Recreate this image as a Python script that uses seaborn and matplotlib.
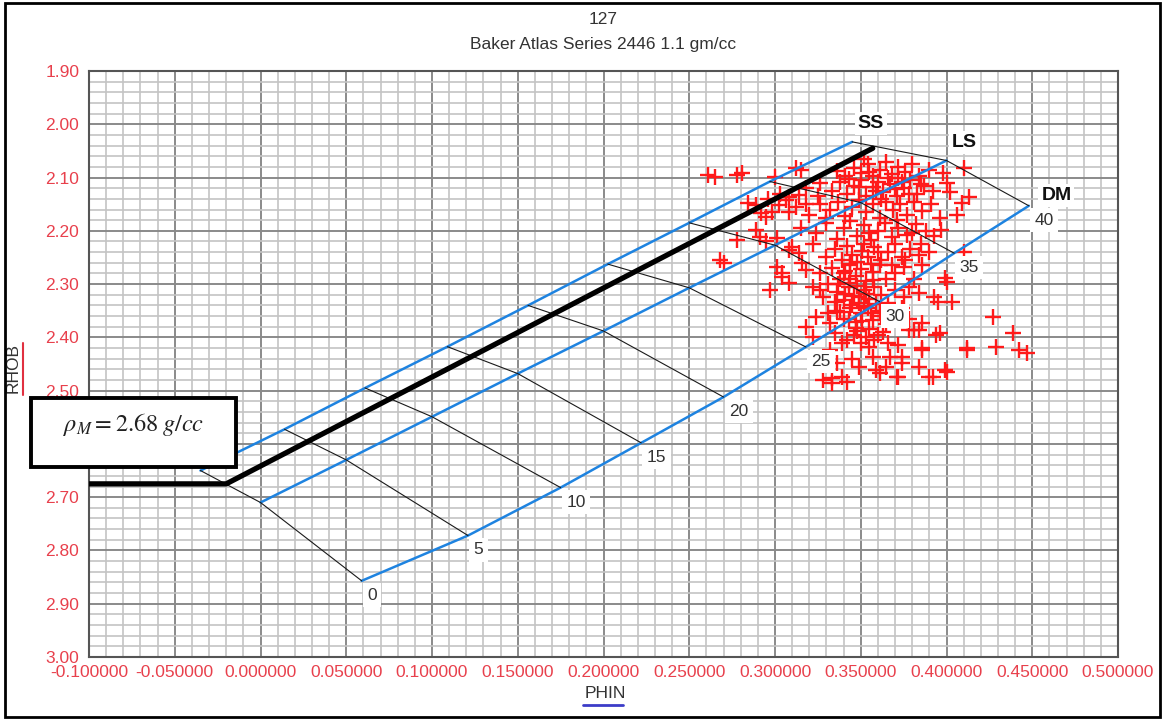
import matplotlib
matplotlib.use("Agg")
import matplotlib.pyplot as plt
import seaborn as sns
import pandas as pd
from matplotlib.ticker import MultipleLocator, FuncFormatter
from matplotlib.patches import Rectangle
from matplotlib.lines import Line2D

# ---------------- data ----------------
porosity = [0, 5, 10, 15, 20, 25, 30, 35, 40]
ss_phin = [-0.035, 0.014, 0.061, 0.109, 0.156, 0.2025, 0.250, 0.297, 0.345]
ss_rhob = [2.650, 2.5725, 2.495, 2.4175, 2.340, 2.2625, 2.185, 2.1075, 2.033]
ls_phin = [0.00, 0.05, 0.10, 0.15, 0.20, 0.25, 0.30, 0.35, 0.40]
ls_rhob = [2.710, 2.630, 2.549, 2.468, 2.388, 2.307, 2.227, 2.147, 2.068]
dm_phin = [0.059, 0.121, 0.175, 0.222, 0.270, 0.318, 0.361, 0.4045, 0.448]
dm_rhob = [2.857, 2.772, 2.682, 2.598, 2.512, 2.418, 2.333, 2.242, 2.153]
lith_names = ["SS", "LS", "DM"]

matrix_phin = [-0.100, -0.020, 0.357]
matrix_rhob = [2.675, 2.675, 2.045]

phin = [
    0.261, 0.265, 0.278, 0.281, 0.300, 0.312, 0.315, 0.336, 0.341, 0.346,
    0.350, 0.354, 0.357, 0.361, 0.365, 0.368, 0.372, 0.376, 0.380, 0.384,
    0.390, 0.398, 0.410, 0.352, 0.372,
    0.318, 0.326, 0.333, 0.338, 0.342, 0.346, 0.350, 0.353, 0.357, 0.360,
    0.363, 0.367, 0.371, 0.375, 0.379, 0.383, 0.387, 0.392, 0.400, 0.402,
    0.308, 0.314,
    0.284, 0.289, 0.292, 0.295, 0.298, 0.3025, 0.3066, 0.312, 0.308, 0.320,
    0.326, 0.332, 0.337, 0.341, 0.345, 0.349, 0.353, 0.357, 0.361, 0.365,
    0.369, 0.373, 0.377, 0.381, 0.386, 0.391, 0.413, 0.409, 0.406, 0.396,
    0.289, 0.291, 0.301, 0.295, 0.278, 0.315, 0.324, 0.330, 0.336, 0.340,
    0.344, 0.348, 0.352, 0.356, 0.360, 0.364, 0.368, 0.372, 0.377, 0.382,
    0.388, 0.397, 0.355,
    0.310, 0.314, 0.308, 0.268, 0.270, 0.322, 0.330, 0.335, 0.339, 0.342,
    0.345, 0.348, 0.351, 0.354, 0.358, 0.362, 0.366, 0.370, 0.374, 0.379,
    0.384, 0.410, 0.344, 0.356,
    0.301, 0.304, 0.304, 0.308, 0.316, 0.318, 0.326, 0.333, 0.338, 0.341,
    0.344, 0.347, 0.350, 0.353, 0.357, 0.361, 0.365, 0.370, 0.375, 0.381,
    0.399, 0.343,
    0.297, 0.322, 0.326, 0.331, 0.328, 0.336, 0.340, 0.343, 0.346, 0.349,
    0.352, 0.355, 0.358, 0.362, 0.366, 0.370, 0.375, 0.378, 0.384, 0.393,
    0.395, 0.403, 0.400,
    0.318, 0.324, 0.332, 0.336, 0.340, 0.344, 0.347, 0.350, 0.354, 0.357,
    0.361, 0.365, 0.369, 0.374, 0.386, 0.427, 0.378,
    0.322, 0.335, 0.342, 0.348, 0.353, 0.355, 0.360, 0.366, 0.378, 0.381,
    0.384, 0.394, 0.396, 0.439, 0.412, 0.429, 0.386, 0.372,
    0.442, 0.447, 0.412, 0.349, 0.357, 0.367, 0.374, 0.384, 0.390, 0.400,
    0.372, 0.361, 0.333, 0.342, 0.332, 0.336, 0.328, 0.333, 0.339, 0.399,
    0.392, 0.359, 0.365, 0.371, 0.374, 0.386, 0.345,
    0.337, 0.341, 0.345, 0.338, 0.343, 0.347, 0.351, 0.346, 0.339, 0.352,
    0.356, 0.349, 0.355, 0.359, 0.362, 0.344, 0.348, 0.353, 0.357, 0.340,
    0.335, 0.331, 0.350, 0.358, 0.363,
    0.343, 0.349, 0.355, 0.359, 0.366, 0.370, 0.374, 0.378, 0.385, 0.362,
    0.371, 0.380, 0.385, 0.390, 0.376, 0.368, 0.386, 0.393, 0.360, 0.352,
    0.296, 0.303, 0.318, 0.325, 0.330,
]
rhob = [
    2.095, 2.099, 2.095, 2.091, 2.099, 2.082, 2.086, 2.088, 2.098, 2.082,
    2.092, 2.075, 2.098, 2.085, 2.070, 2.094, 2.080, 2.090, 2.075, 2.098,
    2.085, 2.092, 2.082, 2.065, 2.100,
    2.120, 2.110, 2.125, 2.108, 2.130, 2.115, 2.105, 2.135, 2.118, 2.108,
    2.128, 2.112, 2.135, 2.120, 2.105, 2.130, 2.115, 2.125, 2.110, 2.127,
    2.137, 2.133,
    2.148, 2.152, 2.167, 2.174, 2.165, 2.152, 2.142, 2.155, 2.165, 2.170,
    2.150, 2.160, 2.145, 2.172, 2.155, 2.142, 2.165, 2.150, 2.175, 2.145,
    2.160, 2.150, 2.170, 2.145, 2.162, 2.150, 2.137, 2.148, 2.170, 2.175,
    2.198, 2.211, 2.213, 2.220, 2.217, 2.195, 2.205, 2.185, 2.215, 2.195,
    2.182, 2.210, 2.190, 2.218, 2.200, 2.185, 2.212, 2.195, 2.208, 2.188,
    2.200, 2.198, 2.205,
    2.230, 2.242, 2.236, 2.255, 2.260, 2.225, 2.250, 2.235, 2.255, 2.228,
    2.245, 2.258, 2.238, 2.250, 2.230, 2.255, 2.240, 2.225, 2.250, 2.235,
    2.245, 2.240, 2.262, 2.262,
    2.268, 2.287, 2.279, 2.298, 2.260, 2.274, 2.280, 2.270, 2.290, 2.275,
    2.265, 2.285, 2.272, 2.295, 2.278, 2.265, 2.290, 2.280, 2.268, 2.290,
    2.289, 2.298,
    2.311, 2.305, 2.311, 2.300, 2.324, 2.315, 2.330, 2.305, 2.322, 2.335,
    2.312, 2.328, 2.305, 2.320, 2.335, 2.312, 2.325, 2.305, 2.317, 2.324,
    2.334, 2.334, 2.296,
    2.381, 2.362, 2.373, 2.350, 2.365, 2.345, 2.372, 2.355, 2.345, 2.368,
    2.350, 2.375, 2.358, 2.345, 2.373, 2.362, 2.365,
    2.399, 2.392, 2.405, 2.388, 2.400, 2.418, 2.395, 2.410, 2.386, 2.386,
    2.386, 2.396, 2.392, 2.392, 2.420, 2.418, 2.420, 2.415,
    2.424, 2.429, 2.424, 2.456, 2.437, 2.437, 2.437, 2.456, 2.474, 2.465,
    2.474, 2.467, 2.476, 2.484, 2.424, 2.448, 2.480, 2.486, 2.474, 2.461,
    2.474, 2.461, 2.456, 2.474, 2.448, 2.424, 2.440,
    2.300, 2.318, 2.340, 2.352, 2.365, 2.382, 2.370, 2.395, 2.410, 2.342,
    2.355, 2.325, 2.385, 2.338, 2.360, 2.290, 2.303, 2.318, 2.292, 2.280,
    2.333, 2.355, 2.410, 2.405, 2.390,
    2.102, 2.118, 2.090, 2.125, 2.100, 2.122, 2.108, 2.130, 2.112, 2.140,
    2.180, 2.205, 2.225, 2.240, 2.255, 2.265, 2.265, 2.210, 2.240, 2.225,
    2.140, 2.130, 2.150, 2.135, 2.175,
]

title_lines = ["127", "Baker Atlas Series 2446 1.1 gm/cc"]
x_label = "PHIN"
y_label = "RHOB"
matrix_text = r"$\rho_M = 2.68\;g/cc$"

# ---------------- style ----------------
sns.set_theme(style="white")
plt.rcParams['font.family'] = ['Liberation Sans', 'DejaVu Sans']
plt.rcParams['mathtext.fontset'] = 'stix'

W, H = 1163, 719
fig = plt.figure(figsize=(W / 100, H / 100), dpi=100)
fig.patch.set_facecolor("white")
ax = fig.add_axes([89 / W, 1 - 657 / H, (1118 - 89) / W, (657 - 71) / H])
ax.set_facecolor("white")

BLUE = "#1e83e0"
RED = "#ff1a1a"
TICKRED = "#e8404c"
TICKBLUE = "#2a2ac8"
TXT = "#333333"

df = pd.DataFrame({"PHIN": phin, "RHOB": rhob})
sns.scatterplot(data=df, x="PHIN", y="RHOB", marker="+", s=135, color=RED,
                linewidth=1.7, ax=ax, zorder=2, legend=False)

# lithology lines
for xs, ys in [(ss_phin, ss_rhob), (ls_phin, ls_rhob), (dm_phin, dm_rhob)]:
    sns.lineplot(x=xs, y=ys, sort=False, estimator=None, color=BLUE,
                 linewidth=1.8, ax=ax, zorder=3)
# porosity connecting lines
for i in range(len(porosity)):
    sns.lineplot(x=[ss_phin[i], ls_phin[i], dm_phin[i]],
                 y=[ss_rhob[i], ls_rhob[i], dm_rhob[i]],
                 sort=False, estimator=None, color="#1a1a1a", linewidth=0.8,
                 ax=ax, zorder=3)
# user matrix line
sns.lineplot(x=matrix_phin, y=matrix_rhob, sort=False, estimator=None,
             color="black", linewidth=3.8, ax=ax, zorder=4)

# porosity labels
for p, xv, yv in zip(porosity, dm_phin, dm_rhob):
    ax.annotate(f"{p}", (xv, yv), xytext=(4, -5), textcoords="offset points",
                ha="left", va="top", fontsize=12.5, color=TXT, zorder=6,
                bbox=dict(boxstyle="square,pad=0.25", fc="white", ec="none"))
# lithology names
tops = [(ss_phin[-1], ss_rhob[-1], (4, 7)), (ls_phin[-1], ls_rhob[-1], (4, 7)),
        (dm_phin[-1], dm_rhob[-1], (9, 1))]
for name, (xv, yv, off) in zip(lith_names, tops):
    ax.annotate(name, (xv, yv), xytext=off, textcoords="offset points",
                ha="left", va="bottom", fontsize=14, fontweight="bold",
                color="#111111", zorder=6,
                bbox=dict(boxstyle="square,pad=0.15", fc="white", ec="none"))

ax.set_xlim(-0.1, 0.5)
ax.set_ylim(3.0, 1.9)

ax.xaxis.set_major_locator(MultipleLocator(0.05))
ax.xaxis.set_minor_locator(MultipleLocator(0.01))
ax.yaxis.set_major_locator(MultipleLocator(0.1))
ax.yaxis.set_minor_locator(MultipleLocator(0.02))
ax.xaxis.set_major_formatter(FuncFormatter(lambda v, p: f"{round(v, 6) + 0.0:.6f}"))
ax.yaxis.set_major_formatter(FuncFormatter(lambda v, p: f"{round(v, 2) + 0.0:.2f}"))

ax.grid(which="major", color="#8a8a8a", linewidth=1.4)
ax.grid(which="minor", color="#c4c4c4", linewidth=1.2)
ax.set_axisbelow(True)

ax.tick_params(which="major", direction="out", length=5, width=1.3,
               color=TICKBLUE, labelcolor=TICKRED, labelsize=12.5, pad=1)
ax.tick_params(which="minor", direction="out", length=2.5, width=1.2,
               color=TICKBLUE)
ax.tick_params(axis="y", pad=2)
for s in ax.spines.values():
    s.set_color("#555555")
    s.set_linewidth(1.5)

ax.set_xlabel(x_label, fontsize=12.5, color=TXT)
ax.set_ylabel(y_label, fontsize=12.5, color=TXT)
ax.xaxis.set_label_coords((605 - 89) / 1029, (657 - 686) / 586)
ax.yaxis.set_label_coords((21 - 89) / 1029, (657 - 368) / 586)

# underlines of axis titles
fig.add_artist(Line2D([583 / W, 623 / W], [1 - 705 / H, 1 - 705 / H],
                      color="#3c3cc8", linewidth=2))
fig.add_artist(Line2D([23 / W, 23 / W], [1 - 343 / H, 1 - 395 / H],
                      color="#e03040", linewidth=1.5))

# title
fig.text(603 / W, 1 - 20 / H, title_lines[0], ha="center", va="center",
         fontsize=12.5, color=TXT)
fig.text(603 / W, 1 - 45 / H, title_lines[1], ha="center", va="center",
         fontsize=12.5, color=TXT)

# matrix annotation box
fig.add_artist(Rectangle((31 / W, 1 - 467 / H), 205 / W, 69 / H,
                         transform=fig.transFigure, facecolor="white",
                         edgecolor="black", linewidth=2.8, zorder=10))
fig.text(134 / W, 1 - 424 / H, matrix_text, ha="center", va="center",
         fontsize=17.5, color="#222222", zorder=11)

# outer frame
fig.add_artist(Rectangle((5 / W, 1 - 717 / H), 1155 / W, 714 / H,
                         transform=fig.transFigure, facecolor="none",
                         edgecolor="black", linewidth=2, zorder=12))

fig.savefig("out.png", dpi=100)
